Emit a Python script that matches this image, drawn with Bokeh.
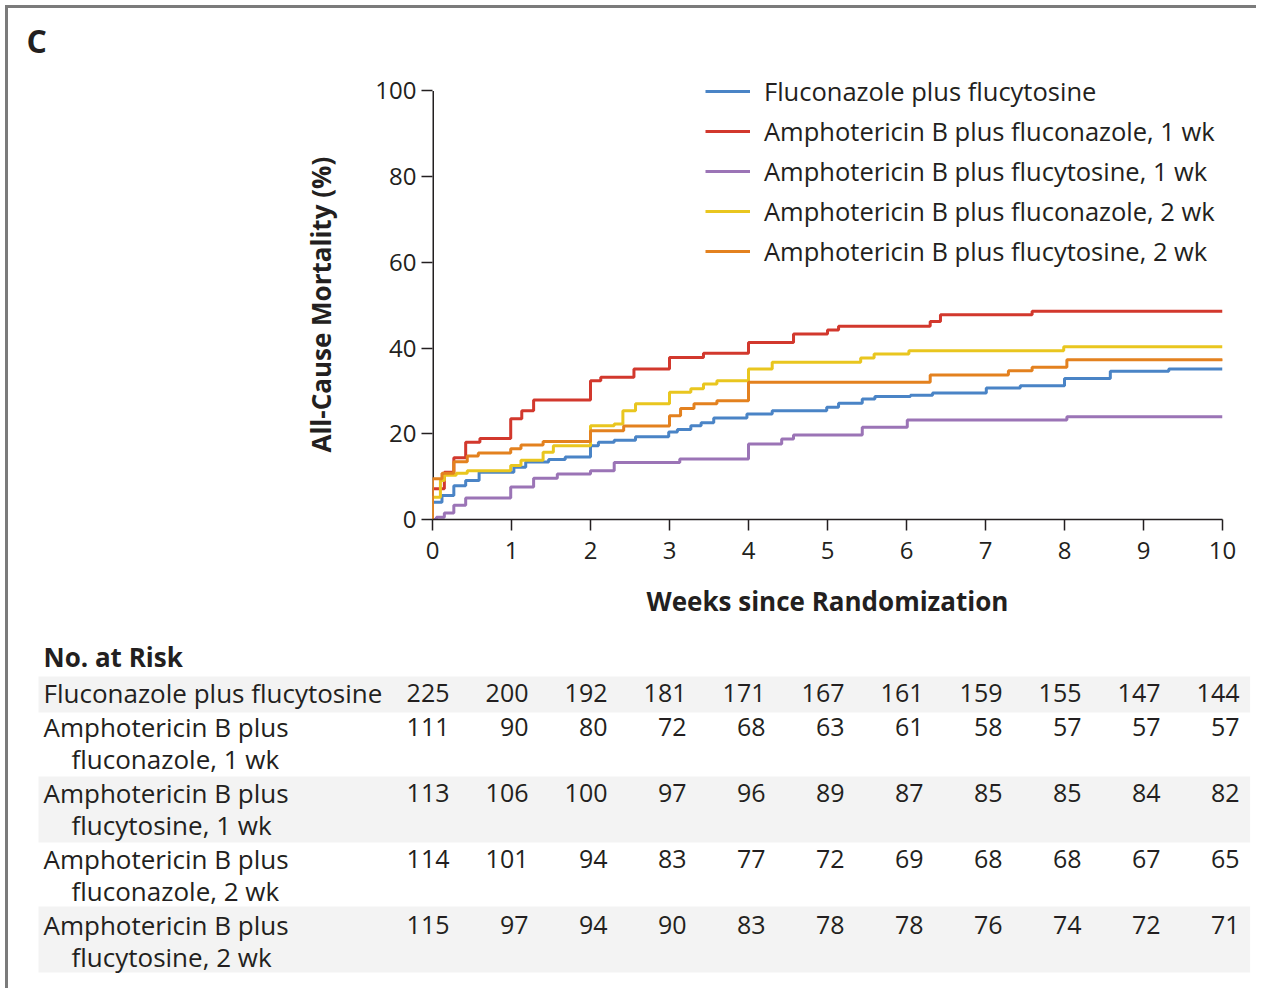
from bokeh.plotting import figure
from bokeh.models import Range1d, FixedTicker, Legend, LegendItem
from bokeh.layouts import column
from bokeh.core.properties import value
from bokeh.embed import file_html
from bokeh.resources import INLINE

FONT = "Open Sans"
INK = "#231f20"

# ---- data -----------------------------------------------------------------
series_names = [
    "Fluconazole plus flucytosine",
    "Amphotericin B plus fluconazole, 1 wk",
    "Amphotericin B plus flucytosine, 1 wk",
    "Amphotericin B plus fluconazole, 2 wk",
    "Amphotericin B plus flucytosine, 2 wk",
]
series_colors = ["#4a84c6", "#d2382d", "#9b74b6", "#e9c61f", "#e3811f"]

# step curves: week of each jump and cumulative mortality (%) after it
ff_t = [0, 0, 0.12, 0.27, 0.42, 0.59, 1.03, 1.18, 1.47, 1.68, 2.0, 2.1, 2.3, 2.57, 2.99, 3.1, 3.27, 3.4,
        3.56, 3.98, 4.3, 4.99, 5.14, 5.44, 5.6, 6.05, 6.33, 7.01, 7.44, 8.0, 8.58, 9.32, 10]
ff_v = [0, 4.0, 5.6, 7.9, 9.1, 11.0, 12.2, 13.4, 14.0, 14.6, 17.2, 18.0, 18.5, 19.3, 20.4, 21.0, 21.9, 22.6,
        23.7, 24.6, 25.4, 26.2, 27.1, 28.1, 28.7, 29.0, 29.5, 30.7, 31.2, 32.9, 34.6, 35.1, 35.1]

af1_t = [0, 0, 0.15, 0.27, 0.42, 0.6, 0.99, 1.13, 1.28, 2.0, 2.13, 2.55, 3.0, 3.43, 4.0, 4.57, 5.0,
         5.14, 6.3, 6.43, 7.59, 10]
af1_v = [0, 7.2, 11.0, 14.4, 18.0, 18.9, 23.5, 25.4, 27.9, 32.4, 33.2, 35.1, 37.8, 38.8, 41.3, 43.3, 44.2,
         45.1, 46.2, 47.8, 48.6, 48.6]

ac1_t = [0, 0.05, 0.15, 0.27, 0.42, 0.99, 1.28, 1.58, 2.0, 2.3, 3.13, 4.0, 4.42, 4.57, 5.44, 6.01, 8.03, 10]
ac1_v = [0, 0.5, 1.5, 3.3, 5.0, 7.6, 9.6, 10.6, 11.4, 13.3, 14.1, 17.6, 18.8, 19.7, 21.5, 23.2, 24.0, 24.0]

af2_t = [0, 0, 0.1, 0.15, 0.3, 0.44, 0.99, 1.12, 1.4, 1.53, 2.0, 2.3, 2.41, 2.57, 3.0, 3.27, 3.43, 3.6,
         4.0, 4.3, 5.42, 5.59, 6.03, 7.99, 10]
af2_v = [0, 5.2, 9.1, 10.3, 10.8, 11.4, 12.6, 13.8, 15.7, 17.2, 21.9, 22.3, 25.4, 27.0, 29.7, 30.5, 31.6, 32.4,
         35.1, 36.7, 37.7, 38.6, 39.4, 40.3, 40.3]

ac2_t = [0, 0, 0.12, 0.27, 0.44, 0.58, 0.99, 1.12, 1.4, 2.0, 2.42, 3.0, 3.14, 3.31, 3.6, 4.0, 6.3, 7.29,
         7.59, 8.03, 10]
ac2_v = [0, 9.5, 10.8, 13.5, 14.8, 15.5, 16.5, 17.4, 18.2, 20.7, 21.8, 24.2, 25.9, 27.0, 27.7, 32.0, 33.7, 34.7,
         35.5, 37.3, 37.5]

curves_t = [ff_t, af1_t, ac1_t, af2_t, ac2_t]
curves_v = [ff_v, af1_v, ac1_v, af2_v, ac2_v]

x_ticks = [0, 1, 2, 3, 4, 5, 6, 7, 8, 9, 10]
y_ticks = [0, 20, 40, 60, 80, 100]

risk_weeks = [0, 1, 2, 3, 4, 5, 6, 7, 8, 9, 10]
risk_ff = [225, 200, 192, 181, 171, 167, 161, 159, 155, 147, 144]
risk_af1 = [111, 90, 80, 72, 68, 63, 61, 58, 57, 57, 57]
risk_ac1 = [113, 106, 100, 97, 96, 89, 87, 85, 85, 84, 82]
risk_af2 = [114, 101, 94, 83, 77, 72, 69, 68, 68, 67, 65]
risk_ac2 = [115, 97, 94, 90, 83, 78, 78, 76, 74, 72, 71]
risk_rows = [risk_ff, risk_af1, risk_ac1, risk_af2, risk_ac2]
risk_label1 = ["Fluconazole plus flucytosine", "Amphotericin B plus", "Amphotericin B plus",
               "Amphotericin B plus", "Amphotericin B plus"]
risk_label2 = ["", "fluconazole, 1 wk", "flucytosine, 1 wk", "fluconazole, 2 wk", "flucytosine, 2 wk"]

# ---- main plot --------------------------------------------------------------
W = 1248
p = figure(width=W, height=630, x_range=Range1d(0, 10), y_range=Range1d(0, 105),
           output_backend="svg", toolbar_location=None,
           min_border_left=424, min_border_right=34, min_border_top=61, min_border_bottom=119)
p.outline_line_color = None
p.grid.visible = False

p.title.text = "C"
p.title.align = "left"
p.title.offset = -406
p.title.standoff = 16
p.title.text_font = FONT
p.title.text_font_size = "32px"
p.title.text_font_style = "bold"
p.title.text_color = INK

for ax in (p.xaxis[0], p.yaxis[0]):
    ax.axis_line_color = INK
    ax.axis_line_width = 1.5
    ax.major_tick_line_color = INK
    ax.major_tick_line_width = 1.5
    ax.major_tick_in = 0
    ax.major_tick_out = 11
    ax.minor_tick_line_color = None
    ax.major_label_text_font = FONT
    ax.major_label_text_font_size = "24px"
    ax.major_label_text_color = INK
    ax.axis_label_text_font = FONT
    ax.axis_label_text_font_size = "26px"
    ax.axis_label_text_font_style = "bold"
    ax.axis_label_text_color = INK

p.yaxis.axis_line_color = None
p.segment(x0=[0], y0=[y_ticks[0]], x1=[0], y1=[y_ticks[-1]], line_color=INK, line_width=3)

p.xaxis.ticker = FixedTicker(ticks=x_ticks)
p.yaxis.ticker = FixedTicker(ticks=y_ticks)
p.xaxis.axis_label = "Weeks since Randomization"
# trailing no-break spaces keep the label centred on the 0-100 span
p.yaxis.axis_label = "All-Cause Mortality (%)\u00a0\u00a0\u00a0"
p.xaxis.major_label_standoff = 11
p.yaxis.major_label_standoff = 5
p.xaxis.axis_label_standoff = 21
p.yaxis.axis_label_standoff = 33

items = []
for name, col, t_, v_ in zip(series_names, series_colors, curves_t, curves_v):
    r = p.step(t_, v_, mode="after", line_color=col, line_width=3)
    items.append(LegendItem(label=name, renderers=[r]))

leg = Legend(items=items, location=(273, 250), orientation="vertical",
             glyph_width=45, glyph_height=36, label_height=36, spacing=4,
             label_standoff=14, padding=0, margin=0,
             label_text_font=FONT, label_text_font_size="25.5px", label_text_color=INK,
             border_line_color=None, background_fill_alpha=0)
p.add_layout(leg, "center")

# ---- number at risk table ---------------------------------------------------
H2 = 350
t = figure(width=W, height=H2, x_range=Range1d((8 - 432) / 79, (8 + W - 432) / 79),
           y_range=Range1d(H2, 0), output_backend="svg", toolbar_location=None,
           min_border=0, x_axis_location=None, y_axis_location=None)
t.outline_line_color = None
t.grid.visible = False

for fig in (p, t):
    try:
        fig.frame_align = False
    except Exception:
        pass

label_x = t.x_range.start + 35 / 79
indent_x = t.x_range.start + 63 / 79
row_y = [54, 88, 154, 220, 286]
sub_dy = 32

# light shading behind alternate rows
band_top = [38, 138, 268]
band_bot = [74, 204, 334]
t.quad(left=t.x_range.start + 30 / 79, right=10.35, top=band_top, bottom=band_bot,
       fill_color="#f3f3f3", line_color=None)

t.text(x=[label_x], y=[18], text=["No. at Risk"], text_font=value(FONT), text_font_size="26px",
       text_font_style="bold", text_color=INK, text_baseline="middle", text_align="left")

for i, row in enumerate(risk_rows):
    t.text(x=[label_x], y=[row_y[i]], text=[risk_label1[i]], text_font=value(FONT),
           text_font_size="26px", text_color=INK, text_baseline="middle", text_align="left")
    if risk_label2[i]:
        t.text(x=[indent_x], y=[row_y[i] + sub_dy], text=[risk_label2[i]], text_font=value(FONT),
               text_font_size="26px", text_color=INK, text_baseline="middle", text_align="left")
    t.text(x=[w + 17 / 79 for w in risk_weeks], y=[row_y[i]] * len(row), text=[str(n) for n in row],
           text_font=value(FONT), text_font_size="25px", text_color=INK,
           text_baseline="middle", text_align="right")

layout = column(p, t, spacing=0,
                styles={"margin-left": "5px", "margin-top": "5px",
                        "border-left": "3px solid #7b7b7b", "border-top": "3px solid #7b7b7b"})

open("out.html", "w").write(file_html(layout, INLINE))
